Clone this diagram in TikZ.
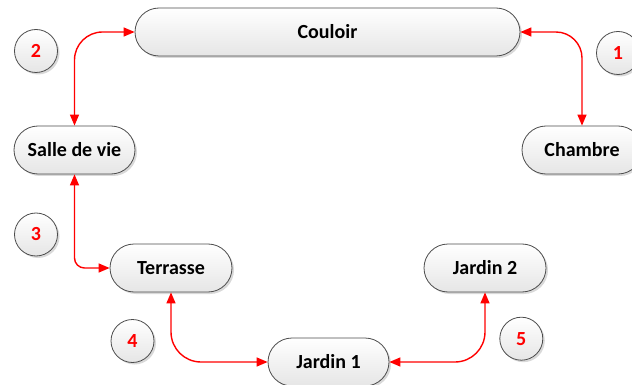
\documentclass[tikz,border=0pt]{standalone}
\usepackage{fontspec}
\setmainfont{Carlito}
\usetikzlibrary{arrows.meta,shadows}
\tikzset{
  room/.style={draw=black!70, line width=0.8pt, rounded corners=24pt, minimum height=48pt,
    top color=white, bottom color=black!10, drop shadow={shadow xshift=2pt, shadow yshift=-2pt, opacity=0.25, fill=black!60},
    font=\fontsize{20}{24}\selectfont\bfseries, inner sep=0pt},
  num/.style={circle, draw=black!70, line width=0.8pt, minimum size=43pt, inner sep=0pt,
    top color=white, bottom color=black!10, drop shadow={shadow xshift=2pt, shadow yshift=-2pt, opacity=0.25, fill=black!60},
    font=\fontsize{20}{24}\selectfont\bfseries, text=red},
  conn/.style={draw=red, line width=1.4pt, {Triangle[length=11pt,width=9pt]}-{Triangle[length=11pt,width=9pt]}}
}
\begin{document}
\begin{tikzpicture}[x=1pt,y=-1pt]
\useasboundingbox (0,0) rectangle (632,385);
\clip (0,0) rectangle (632,385);
\node[room, minimum width=385pt] (coul) at (327.5,32) {Couloir};
\node[room, minimum width=120pt] (cham) at (582,150) {Chambre};
\node[room, minimum width=121pt] (salle) at (74.5,150) {Salle de vie};
\node[room, minimum width=122pt] (terr) at (171,268) {Terrasse};
\node[room, minimum width=122pt] (j2) at (485,268) {Jardin 2};
\node[room, minimum width=121pt] (j1) at (328.5,362) {Jardin 1};
\node[num] (n1) at (618,53) {1};
\node[num] (n2) at (36,51) {2};
\node[num] (n3) at (36,234.5) {3};
\node[num] (n4) at (132.5,341) {4};
\node[num] (n5) at (521.3,338.7) {5};
\draw[conn, rounded corners=26pt] (coul.east) -| (cham.north);
\draw[conn, rounded corners=28pt] (coul.west) -| (salle.north);
\draw[conn, rounded corners=10pt] (salle.south) |- (terr.west);
\draw[conn, rounded corners=30pt] (terr.south) |- (j1.west);
\draw[conn, rounded corners=30pt] (j2.south) |- (j1.east);
\end{tikzpicture}
\end{document}
